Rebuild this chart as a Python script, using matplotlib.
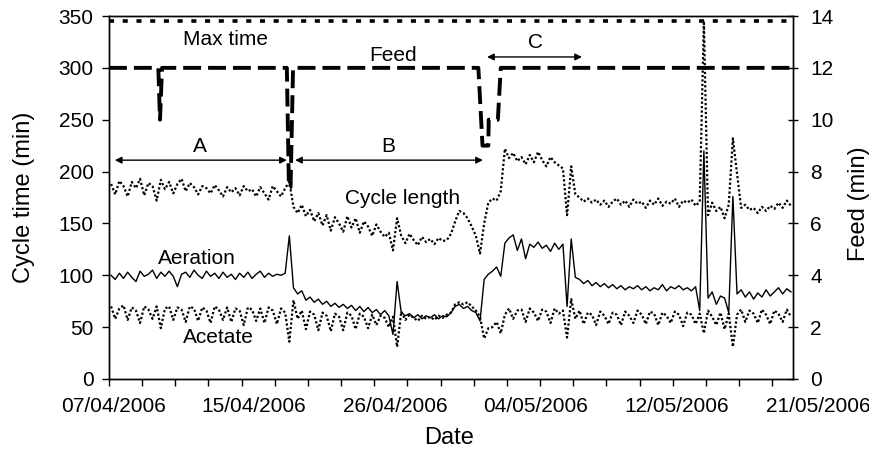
import matplotlib
matplotlib.use("Agg")
import matplotlib.pyplot as plt
import matplotlib.transforms as mtransforms
import numpy as np

plt.rcParams['font.family'] = ['Liberation Sans', 'DejaVu Sans']
FS = 15
FS_TITLE = 17

# one value per cycle (x = cycle index)
cycle_length = [188, 178, 191, 186, 176, 190, 184, 193, 177, 189,
                186, 172, 192, 183, 190, 179, 188, 193, 181, 189,
                185, 178, 186, 184, 179, 187, 182, 176, 185, 180,
                184, 177, 186, 181, 183, 176, 185, 179, 173, 186,
                181, 176, 184, 190, 166, 160, 168, 157, 163, 152,
                160, 148, 158, 143, 156, 150, 142, 157, 146, 155,
                141, 152, 147, 138, 149, 142, 137, 141, 124, 155,
                138, 131, 140, 134, 129, 137, 132, 135, 130, 136,
                133, 134, 140, 152, 162, 160, 155, 147, 138, 121,
                150, 170, 174, 172, 181, 222, 213, 218, 210, 214,
                207, 216, 209, 219, 211, 205, 214, 209, 206, 203,
                158, 205, 178, 175, 171, 174, 170, 173, 168, 172,
                166, 171, 174, 168, 172, 166, 173, 169, 171, 165,
                172, 168, 174, 167, 171, 169, 174, 166, 172, 170,
                173, 167, 171, 345, 158, 170, 162, 166, 155, 168,
                232, 198, 165, 168, 163, 165, 160, 166, 162, 167,
                164, 170, 165, 172, 167]

aeration = [100, 96, 102, 97, 103, 98, 94, 104, 99, 101,
            105, 97, 103, 99, 104, 99, 89, 101, 103, 98,
            105, 100, 97, 104, 99, 102, 97, 103, 98, 101,
            96, 102, 98, 103, 97, 101, 104, 98, 102, 99,
            101, 100, 102, 138, 88, 82, 85, 76, 79, 74,
            77, 72, 75, 70, 73, 69, 72, 68, 71, 66,
            70, 65, 69, 64, 67, 62, 66, 61, 43, 94,
            64, 61, 63, 59, 62, 58, 61, 59, 62, 58,
            61, 60, 64, 70, 72, 68, 70, 66, 64, 56,
            96, 101, 104, 108, 99, 131, 136, 139, 124, 135,
            116, 130, 127, 132, 126, 129, 123, 131, 125, 130,
            70, 135, 98, 96, 92, 95, 90, 93, 89, 92,
            88, 91, 87, 90, 86, 89, 87, 90, 86, 89,
            85, 88, 86, 91, 85, 89, 87, 90, 86, 88,
            85, 89, 66, 220, 78, 84, 72, 80, 78, 64,
            176, 82, 86, 79, 84, 77, 83, 79, 86, 80,
            84, 88, 82, 87, 84]

acetate = [70, 58, 68, 71, 57, 69, 66, 54, 70, 67,
           58, 70, 49, 68, 70, 57, 69, 67, 55, 70,
           68, 56, 69, 66, 54, 70, 67, 57, 69, 55,
           68, 66, 52, 69, 67, 56, 68, 54, 69, 66,
           53, 68, 64, 36, 76, 58, 66, 48, 65, 62,
           47, 64, 61, 46, 63, 60, 47, 64, 61, 48,
           63, 60, 49, 62, 52, 61, 59, 50, 60, 31,
           65, 57, 62, 59, 56, 61, 58, 60, 57, 61,
           59, 62, 64, 72, 74, 72, 74, 70, 66, 60,
           39, 49, 50, 55, 44, 62, 68, 58, 66, 67,
           55, 68, 64, 56, 67, 65, 54, 68, 63, 66,
           40, 77, 58, 66, 53, 64, 62, 52, 65, 61,
           53, 64, 62, 52, 65, 61, 54, 66, 62, 53,
           65, 63, 52, 64, 61, 54, 65, 62, 51, 64,
           62, 53, 63, 44, 66, 60, 52, 64, 48, 63,
           31, 62, 67, 55, 66, 63, 54, 67, 62, 53,
           66, 63, 55, 67, 60]

# feed setpoint changes (cycle index, minutes)
feed_x = [-0.5, 11.4, 11.8, 12.3, 42.4, 42.9, 43.3, 43.9,
          88.6, 89.6, 91.0, 91.1, 93.3, 94.0, 164.5]
feed_y = [12, 12, 10, 12, 12, 7.4, 7.4, 12,
          12, 9, 9, 10, 10, 12, 12]

max_time = 345

date_labels = ['07/04/2006', '15/04/2006', '26/04/2006',
               '04/05/2006', '12/05/2006', '21/05/2006']
date_pos = [0.5, 34.5, 68.5, 102.5, 136.5, 170.5]

x = np.arange(len(cycle_length))

W, H = 869, 453
fig = plt.figure(figsize=(W / 100, H / 100), dpi=100)
ax = fig.add_axes([109 / W, 1 - 379 / H, (793 - 109) / W, (379 - 16) / H])
ax2 = ax.twinx()

ax.plot(x, cycle_length, color='black', lw=1.6, linestyle=(0, (1, 1)))
ax.plot(x, aeration, color='black', lw=1.0)
ax.plot(x, acetate, color='black', lw=1.6, linestyle=(0, (1, 1)))
ax.axhline(max_time, color='black', lw=2.6, linestyle=(0, (1.4, 2.4)))
ax2.plot(feed_x, feed_y, color='black', lw=2.8, linestyle=(0, (4.6, 1.8)))

ax.set_xlim(-0.5, 164.5)
ax.set_ylim(0, 350)
ax.set_yticks(np.arange(0, 351, 50))
ax2.set_ylim(0, 14)
ax2.set_yticks(np.arange(0, 15, 2))

ax.set_xticks(np.arange(-0.5, 164.5, 8), minor=True)
ax.set_xticks([])
ax.tick_params(axis='x', which='minor', direction='out', length=5, width=1)
ax.tick_params(axis='y', direction='out', length=5, width=1, labelsize=FS, pad=6)
ax2.tick_params(axis='y', direction='inout', length=7, width=1, labelsize=FS, pad=9)

trans = mtransforms.blended_transform_factory(ax.transData, ax.transAxes)
for p, lab in zip(date_pos, date_labels):
    ax.text(p, -0.05, lab, transform=trans, ha='center', va='top', fontsize=FS)

# axis titles
fig.text(449 / W, 1 - 438 / H, 'Date', ha='center', va='center', fontsize=FS_TITLE)
fig.text(24 / W, 1 - 197 / H, 'Cycle time (min)', rotation=90,
         ha='center', va='center', fontsize=FS_TITLE)
fig.text(859 / W, 1 - 204 / H, 'Feed (min)', rotation=90,
         ha='center', va='center', fontsize=FS_TITLE)

for a in (ax, ax2):
    for s in a.spines.values():
        s.set_linewidth(1.0)

# series labels
ax.text(27.5, 327, 'Max time', ha='center', va='center', fontsize=FS)
ax.text(68.0, 312, 'Feed', ha='center', va='center', fontsize=FS)
ax.text(70.2, 174, 'Cycle length', ha='center', va='center', fontsize=FS)
ax.text(20.7, 116, 'Aeration', ha='center', va='center', fontsize=FS)
ax.text(25.8, 40, 'Acetate', ha='center', va='center', fontsize=FS)

# periods A, B, C
arrow = dict(arrowstyle='<|-|>', color='black', lw=1.0,
             mutation_scale=10, shrinkA=0, shrinkB=0)
ax.annotate('', xy=(42.4, 211), xytext=(0.9, 211), arrowprops=arrow)
ax.annotate('', xy=(89.7, 211), xytext=(44.4, 211), arrowprops=arrow)
ax.annotate('', xy=(113.6, 310.5), xytext=(90.7, 310.5), arrowprops=arrow)
ax.text(21.5, 224, 'A', ha='center', va='center', fontsize=FS)
ax.text(66.8, 224, 'B', ha='center', va='center', fontsize=FS)
ax.text(102.3, 324, 'C', ha='center', va='center', fontsize=FS)

fig.savefig('out.png', dpi=100)
